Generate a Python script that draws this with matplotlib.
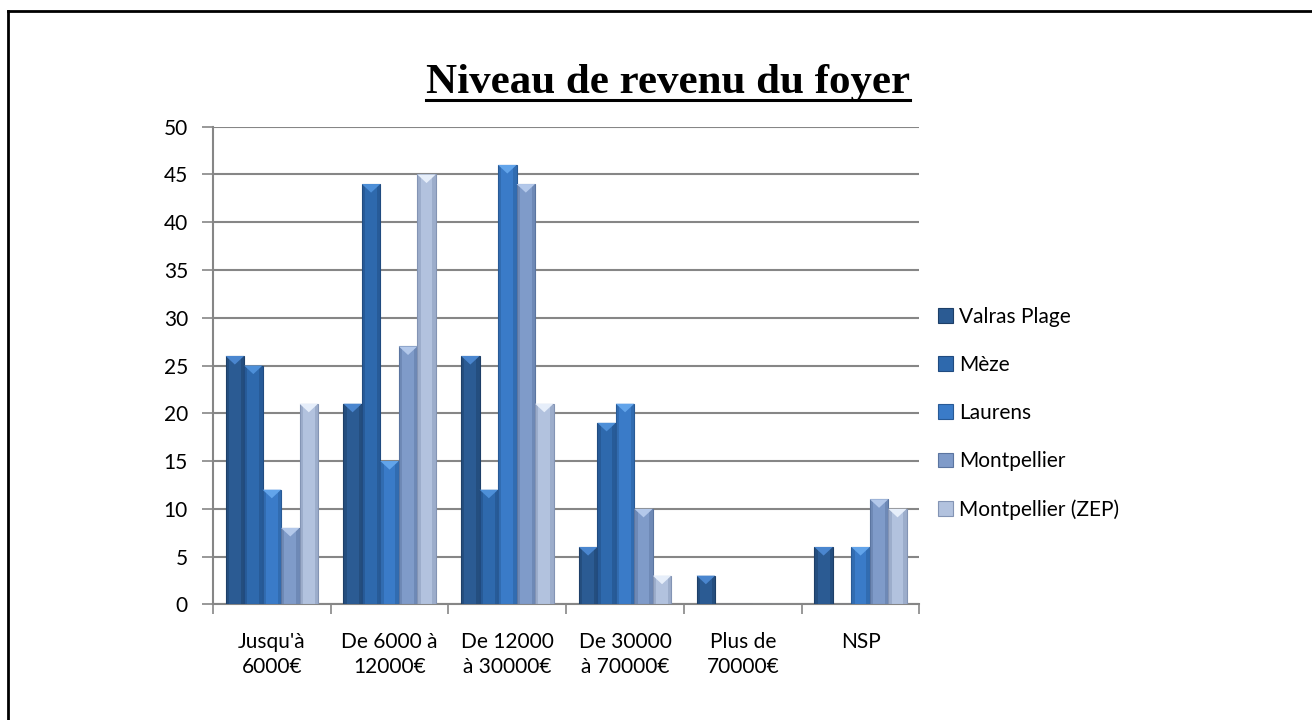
import matplotlib
matplotlib.use("Agg")
import matplotlib.pyplot as plt
import numpy as np
from matplotlib.patches import Polygon, Rectangle
from matplotlib.lines import Line2D

plt.rcParams["font.family"] = ["Lato", "DejaVu Sans"]

# données
categories = ["Jusqu'à\n6000€", "De 6000 à\n12000€", "De 12000\nà 30000€",
              "De 30000\nà 70000€", "Plus de\n70000€", "NSP"]
series = ["Valras Plage", "Mèze", "Laurens", "Montpellier", "Montpellier (ZEP)"]
valras = [26, 21, 26, 6, 3, 6]
meze = [25, 44, 12, 19, 0, 0]
laurens = [12, 15, 46, 21, 0, 6]
montpellier = [8, 27, 44, 10, 0, 11]
zep = [21, 45, 21, 3, 0, 10]
values = [valras, meze, laurens, montpellier, zep]

# couleurs (face, bord sombre, biseau clair)
FACES = ["#2b5b93", "#2e69ad", "#3a7bc8", "#7f9bc9", "#b2c2de"]
EDGES = ["#1d3f68", "#204b80", "#285a96", "#5b75a0", "#8394b4"]
TOPS = ["#4a86cf", "#4d8fd8", "#62a4ea", "#b3c8ea", "#e6eefa"]

fig = plt.figure(figsize=(13.12, 7.2), dpi=100)
ax = fig.add_axes([0.1623, 0.1607, 0.5385, 0.6633])

n = len(series)
bw = 0.157
x = np.arange(len(categories))
for i, (name, vals) in enumerate(zip(series, values)):
    pos = x - bw * n / 2 + bw * (i + 0.5)
    ax.bar(pos, vals, width=bw, color=FACES[i], edgecolor=EDGES[i],
           linewidth=0.8, zorder=3, label=name)
    # effet biseau : bandes latérales + triangle en haut
    for p, v in zip(pos, vals):
        if v <= 0:
            continue
        ax.add_patch(Rectangle((p - bw / 2, 0), bw * 0.18, v, color=EDGES[i],
                               alpha=0.45, lw=0, zorder=4))
        ax.add_patch(Rectangle((p + bw / 2 - bw * 0.18, 0), bw * 0.18, v,
                               color=EDGES[i], alpha=0.45, lw=0, zorder=4))
        ax.add_patch(Polygon([[p - bw / 2, v], [p + bw / 2, v], [p, v - 0.9]],
                             closed=True, color=TOPS[i], lw=0, zorder=5))

ax.set_xlim(-0.5, len(categories) - 0.5)
ax.set_ylim(0, 50)
ax.set_yticks(range(0, 51, 5))
ax.set_xticks(np.arange(-0.5, len(categories), 1))
ax.set_xticklabels([])
ax.set_xticks(x, minor=True)
ax.set_xticklabels(categories, minor=True, fontsize=15, linespacing=1.3)
ax.tick_params(axis="x", which="minor", length=0, pad=20)
ax.tick_params(axis="x", which="major", length=7, width=1.2, color="#868686")
ax.tick_params(axis="y", length=8, width=1.2, color="#868686", labelsize=15, pad=10)
ax.grid(axis="y", color="#868686", linewidth=1.5, zorder=0)
ax.set_axisbelow(True)
for s in ["top", "right"]:
    ax.spines[s].set_visible(False)
for s in ["left", "bottom"]:
    ax.spines[s].set_color("#868686")
    ax.spines[s].set_linewidth(1.5)

leg = ax.legend(loc="center left", bbox_to_anchor=(1.0, 0.40), frameon=False,
                fontsize=15, handlelength=0.7, handleheight=0.7,
                handletextpad=0.3, labelspacing=1.35)

title = fig.text(0.509, 0.885, "Niveau de revenu du foyer", ha="center", va="center",
                 fontsize=31, fontweight="bold", family="Liberation Serif")

# soulignement du titre
fig.canvas.draw()
bb = title.get_window_extent().transformed(fig.transFigure.inverted())
fig.add_artist(Line2D([bb.x0, bb.x1], [bb.y0 + 0.002, bb.y0 + 0.002],
                      transform=fig.transFigure, color="black", lw=2.2))

# cadre (haut et gauche seulement, comme la capture)
fig.add_artist(Line2D([8 / 1312, 1.0], [1 - 11 / 720, 1 - 11 / 720],
                      transform=fig.transFigure, color="black", lw=2))
fig.add_artist(Line2D([8 / 1312, 8 / 1312], [1 - 11 / 720, 0.0],
                      transform=fig.transFigure, color="black", lw=2))

fig.savefig("out.png", dpi=100, facecolor="white")
